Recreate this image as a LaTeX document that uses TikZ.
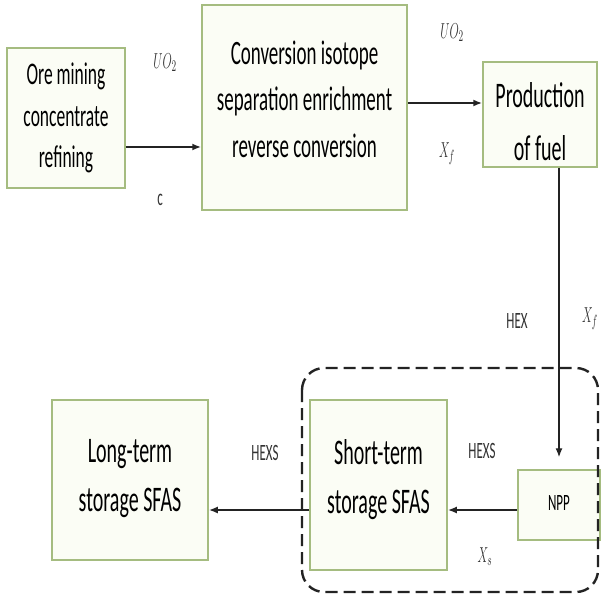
\documentclass[tikz,border=0pt]{standalone}
\usepackage{fontspec}
\setmainfont{Carlito}
\usetikzlibrary{arrows.meta,positioning}
\definecolor{boxgreen}{RGB}{165,188,128}
\definecolor{boxfill}{RGB}{251,253,245}
\definecolor{flowgray}{RGB}{35,35,35}
% tall narrow lettering of the original
\newcommand{\tall}[1]{\scalebox{1}[1.8]{\begin{tabular}{@{}c@{}}#1\end{tabular}}}
\newcommand{\lift}[2]{\raisebox{#1}[\height][\depth]{#2}}

\begin{document}
\begin{tikzpicture}[
  x=1pt, y=1pt, >={Latex[length=9pt,width=7pt]},
  stage/.style={draw=boxgreen, line width=1.5pt, fill=boxfill, inner sep=0pt,
    font=\fontsize{19}{26}\selectfont},
  flow/.style={->, draw=flowgray, line width=1.8pt},
  tag/.style={font=\fontsize{13}{15}\selectfont, text=black!80}
]
  \useasboundingbox (0,0) rectangle (601,598);
  % front end of the cycle
  \node[stage, minimum width=118, minimum height=140, font=\fontsize{17.5}{23}\selectfont] (ore) at (66,480)
    {\tall{Ore mining\\concentrate\\refining}};
  \node[stage, minimum width=205, minimum height=205] (conv) at (304.5,490.5)
    {\lift{6pt}{\tall{Conversion isotope\\separation enrichment\\reverse conversion}}};
  \node[stage, minimum width=114, minimum height=105, font=\fontsize{20}{29}\selectfont] (prod) at (540,483.5)
    {\lift{-9pt}{\tall{Production\\of fuel}}};
  \draw[flow] ([yshift=-29]ore.east) -- ([yshift=-29]ore.east -| conv.west);
  \draw[flow] ([yshift=4.5]conv.east) -- ([yshift=4.5]conv.east -| prod.west);
  \node[tag] (uo2a) at (165,535) {\tall{$UO_2$}};
  \node[tag] (ca) at (160,398) {\tall{c}};
  \node[tag] (uo2b) at (452,565) {\tall{$UO_2$}};
  \node[tag] (xfa) at (447,446) {\tall{$X_f$}};
  % reactor and spent fuel storage
  \node[stage, minimum width=82, minimum height=70, font=\fontsize{13}{15}\selectfont] (npp) at (559,93)
    {\tall{NPP}};
  \node[stage, minimum width=137, minimum height=170, font=\fontsize{20}{27}\selectfont] (short) at (378.5,113)
    {\lift{6pt}{\tall{Short-term\\storage SFAS}}};
  \node[stage, minimum width=156, minimum height=160, font=\fontsize{20}{27}\selectfont] (long) at (130,118)
    {\lift{3pt}{\tall{Long-term\\storage SFAS}}};
  \draw[->, draw=flowgray, line width=1.3pt, shorten >=12pt] (npp.north |- prod.south) -- (npp.north);
  \draw[flow] ([yshift=-5]npp.west) -- ([yshift=-5]npp.west -| short.east);
  \draw[flow] ([yshift=-25]short.west) -- ([yshift=-25]short.west -| long.east);
  \node[tag] (hex) at (517,275) {\tall{HEX}};
  \node[tag] (xfb) at (590,281) {\tall{$X_f$}};
  \node[tag] (hexsa) at (482,145) {\tall{HEXS}};
  \node[tag] (xs) at (485,41) {\tall{$X_s$}};
  \node[tag] (hexsb) at (265,143) {\tall{HEXS}};
  % reactor site boundary
  \draw[flowgray, line width=2.4pt, dash pattern=on 12pt off 6pt, rounded corners=22pt]
    (302,230) rectangle (598,6);
\end{tikzpicture}
\end{document}
